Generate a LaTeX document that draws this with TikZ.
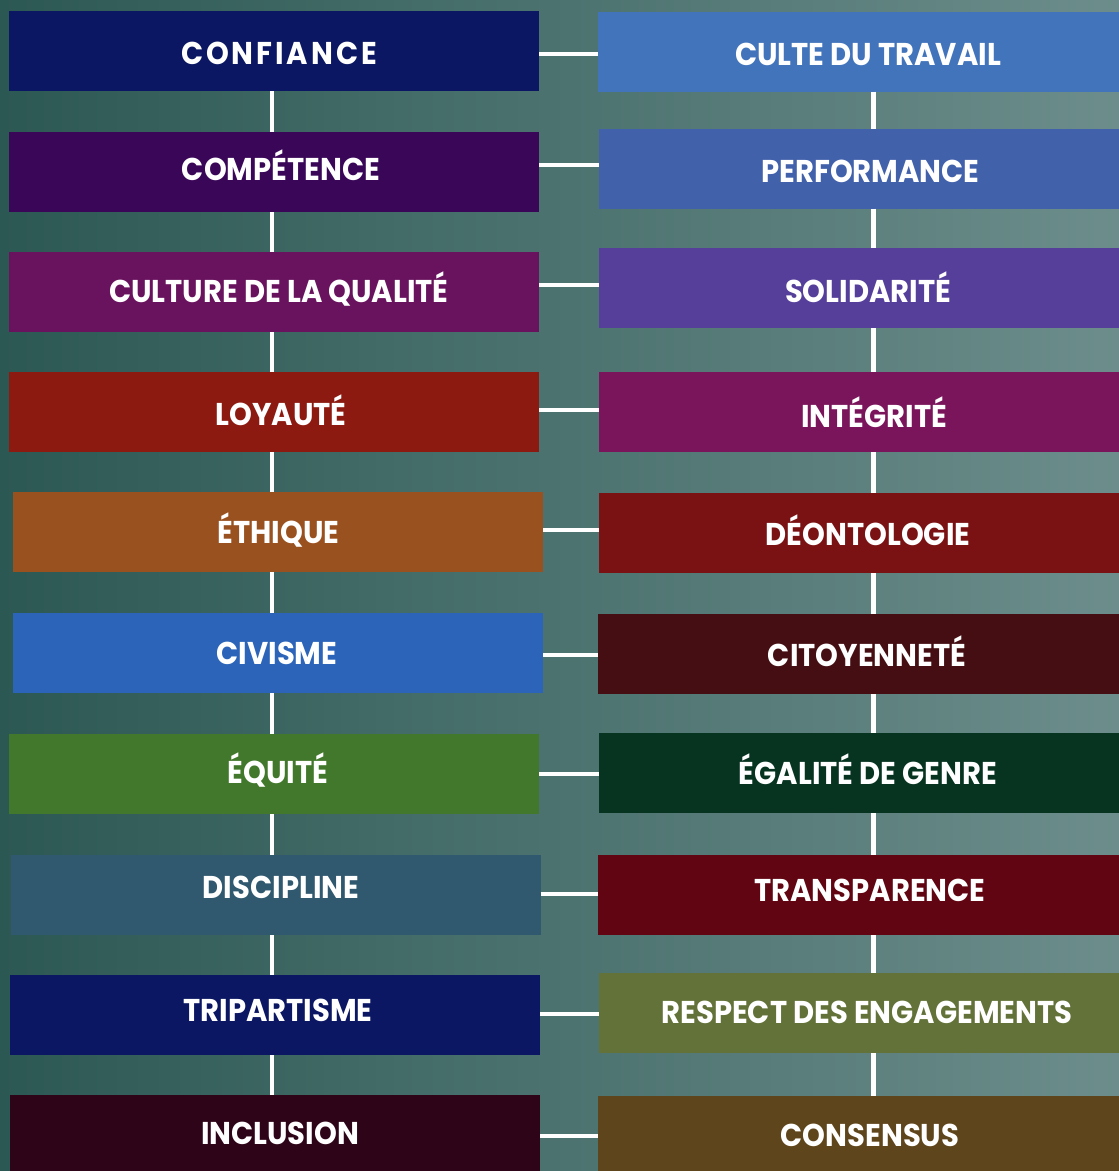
\documentclass[tikz,border=0pt]{standalone}
\usepackage{fontspec}
\setmainfont{Poppins}
\usepackage{graphicx}

% panel colours
\definecolor{bgL}{HTML}{2C5853}
\definecolor{bgR}{HTML}{6C8D8B}
\definecolor{cA}{HTML}{0B1762}
\definecolor{cB}{HTML}{3A0758}
\definecolor{cC}{HTML}{69125E}
\definecolor{cD}{HTML}{8C1A10}
\definecolor{cE}{HTML}{9A5120}
\definecolor{cF}{HTML}{2B64B8}
\definecolor{cG}{HTML}{42782B}
\definecolor{cH}{HTML}{30586E}
\definecolor{cI}{HTML}{0B1762}
\definecolor{cJ}{HTML}{2E0418}
\definecolor{dA}{HTML}{4274BB}
\definecolor{dB}{HTML}{4261AB}
\definecolor{dC}{HTML}{553F9A}
\definecolor{dD}{HTML}{7A155B}
\definecolor{dE}{HTML}{7A1214}
\definecolor{dF}{HTML}{450E12}
\definecolor{dG}{HTML}{063421}
\definecolor{dH}{HTML}{600511}
\definecolor{dI}{HTML}{627238}
\definecolor{dJ}{HTML}{5F451B}

\newcommand\valtext[1]{\scalebox{0.922}[1]{#1}}

\tikzset{
  panel/.style={rectangle, inner sep=0pt, outer sep=0pt, minimum height=80pt, draw=none},
  lpanel/.style={panel, minimum width=530pt},
  rpanel/.style={panel, minimum width=521pt},
  valtxt/.style={anchor=base, inner sep=0pt, text=white,
    font=\fontsize{31.5}{36}\selectfont\bfseries},
  link/.style={draw=white, line width=4.5pt},
}

\begin{document}
\begin{tikzpicture}[x=1pt, y=-1pt]
\useasboundingbox (0,0) rectangle (1119,1171);
\shade[left color=bgL, right color=bgR] (0,0) rectangle (1119,1171);

% spine positions
\coordinate (vl) at (272,0);
\coordinate (vr) at (873.5,0);

% left column
\node[lpanel, fill=cA] (L1)  at (274,51)   {};
\node[lpanel, fill=cB] (L2)  at (274,172)  {};
\node[lpanel, fill=cC] (L3)  at (274,292)  {};
\node[lpanel, fill=cD] (L4)  at (274,412)  {};
\node[lpanel, fill=cE] (L5)  at (278,532)  {};
\node[lpanel, fill=cF] (L6)  at (278,653)  {};
\node[lpanel, fill=cG] (L7)  at (274,774)  {};
\node[lpanel, fill=cH] (L8)  at (275.5,895){};
\node[lpanel, fill=cI] (L9)  at (275,1015) {};
\node[lpanel, fill=cJ] (L10) at (275,1135) {};

% right column
\node[rpanel, fill=dA] (R1)  at (858.5,51.5) {};
\node[rpanel, fill=dB] (R2)  at (859.5,168.5){};
\node[rpanel, fill=dC] (R3)  at (859,288)    {};
\node[rpanel, fill=dD] (R4)  at (859,412)    {};
\node[rpanel, fill=dE] (R5)  at (859,533)    {};
\node[rpanel, fill=dF] (R6)  at (858.5,654)  {};
\node[rpanel, fill=dG] (R7)  at (859,773)    {};
\node[rpanel, fill=dH] (R8)  at (858.5,895)  {};
\node[rpanel, fill=dI] (R9)  at (859,1013)   {};
\node[rpanel, fill=dJ] (R10) at (858.5,1136) {};

% labels, left
\node[valtxt] (tL1)  at (279,64)   {\addfontfeature{LetterSpace=10}\valtext{CONFIANCE}};
\node[valtxt] (tL2)  at (281,180)  {\valtext{COMPÉTENCE}};
\node[valtxt] (tL3)  at (279,302)  {\valtext{CULTURE DE LA QUALITÉ}};
\node[valtxt] (tL4)  at (281,425)  {\valtext{LOYAUTÉ}};
\node[valtxt] (tL5)  at (278.5,543){\valtext{ÉTHIQUE}};
\node[valtxt] (tL6)  at (277,664)  {\valtext{CIVISME}};
\node[valtxt] (tL7)  at (278,783)  {\valtext{ÉQUITÉ}};
\node[valtxt] (tL8)  at (281,898)  {\valtext{DISCIPLINE}};
\node[valtxt] (tL9)  at (278,1021) {\valtext{TRIPARTISME}};
\node[valtxt] (tL10) at (280,1144) {\valtext{INCLUSION}};

% labels, right
\node[valtxt] (tR1)  at (868,65)   {\valtext{CULTE DU TRAVAIL}};
\node[valtxt] (tR2)  at (870.5,182){\valtext{PERFORMANCE}};
\node[valtxt] (tR3)  at (868,302)  {\valtext{SOLIDARITÉ}};
\node[valtxt] (tR4)  at (874,427)  {\valtext{INTÉGRITÉ}};
\node[valtxt] (tR5)  at (868,545)  {\valtext{DÉONTOLOGIE}};
\node[valtxt] (tR6)  at (867,666)  {\valtext{CITOYENNETÉ}};
\node[valtxt] (tR7)  at (868,784)  {\valtext{ÉGALITÉ DE GENRE}};
\node[valtxt] (tR8)  at (870,901)  {\valtext{TRANSPARENCE}};
\node[valtxt] (tR9)  at (867,1023) {\valtext{RESPECT DES ENGAGEMENTS}};
\node[valtxt] (tR10) at (870,1146) {\valtext{CONSENSUS}};

% rungs between the two columns
\coordinate (h1) at (0,54);   \coordinate (h2) at (0,165);
\coordinate (h3) at (0,285);  \coordinate (h4) at (0,410);
\coordinate (h5) at (0,530);  \coordinate (h6) at (0,655);
\coordinate (h7) at (0,774);  \coordinate (h8) at (0,894);
\coordinate (h9) at (0,1014); \coordinate (h10) at (0,1136);
\foreach \i in {1,...,10}{
  \draw[link] (L\i.east |- h\i) -- (R\i.west |- h\i);
}

% spines down each column
\foreach \i [evaluate=\i as \j using int(\i+1)] in {1,...,9}{
  \draw[link] (L\i.south -| vl) -- (L\j.north -| vl);
  \draw[link] (R\i.south -| vr) -- (R\j.north -| vr);
}
\end{tikzpicture}
\end{document}
